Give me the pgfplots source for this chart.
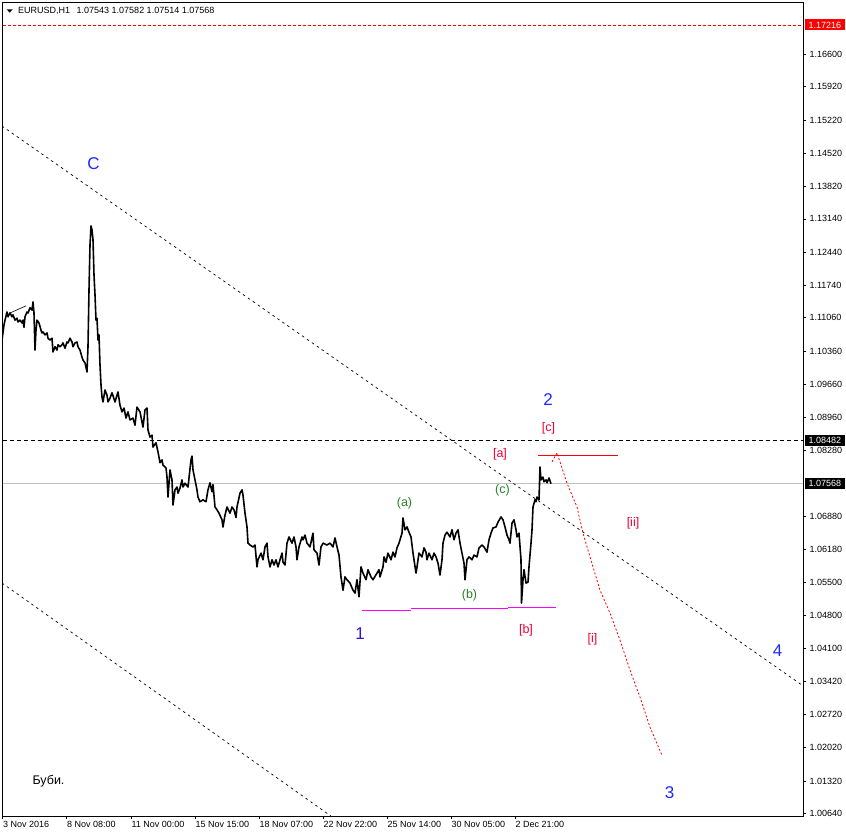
\documentclass[border=0pt]{standalone}
\usepackage{fontspec}
\setmainfont{Liberation Sans}
\usepackage{pgfplots}
\usepackage{pgfplotstable}
\pgfplotsset{compat=1.18}
\definecolor{wblue}{RGB}{30,40,255}
\definecolor{windigo}{RGB}{50,20,210}
\definecolor{wred}{RGB}{235,0,50}
\definecolor{wgreen}{RGB}{40,130,40}
\definecolor{lgray}{RGB}{192,192,192}
\definecolor{wmag}{RGB}{255,0,255}

\pgfplotstableread{
x p
2 1.1059
4 1.1091
5 1.1101
7 1.1118
8 1.1108
10 1.1116
12 1.1108
13 1.1112
15 1.1101
17 1.1105
18 1.1097
20 1.1101
22 1.1095
23 1.1101
24 1.1086
25 1.1108
27 1.1118
28 1.1116
30 1.1127
32 1.1122
33 1.1139
34 1.1116
35 1.1038
36 1.1080
37 1.1101
39 1.1095
41 1.1080
42 1.1074
43 1.1076
45 1.1070
47 1.1074
48 1.1063
50 1.1059
52 1.1063
53 1.1034
55 1.1045
57 1.1038
58 1.1049
60 1.1045
62 1.1049
63 1.1053
65 1.1042
67 1.1055
68 1.1053
70 1.1063
72 1.1055
73 1.1045
75 1.1053
77 1.1055
78 1.1045
80 1.1038
82 1.1023
83 1.1017
85 1.1011
87 1.0992
88 1.1045
89 1.1164
90 1.1259
91 1.1299
92 1.1291
93 1.1270
94 1.1196
95 1.1154
96 1.1101
97 1.1105
98 1.1059
99 1.1070
100 1.1007
101 1.0965
102 1.0939
103 1.0929
105 1.0954
107 1.0943
108 1.0929
110 1.0937
112 1.0948
113 1.0942
115 1.0929
117 1.0943
118 1.0950
120 1.0922
122 1.0908
124 1.0916
126 1.0895
128 1.0908
130 1.0891
133 1.0895
135 1.0880
137 1.0918
140 1.0908
143 1.0876
145 1.0912
147 1.0916
148 1.0870
150 1.0855
152 1.0859
153 1.0834
156 1.0843
158 1.0824
160 1.0801
162 1.0807
163 1.0796
166 1.0790
167 1.0771
168 1.0729
170 1.0786
172 1.0765
173 1.0712
175 1.0744
177 1.0750
178 1.0737
180 1.0748
182 1.0765
183 1.0750
185 1.0758
188 1.0750
191 1.0807
192 1.0815
193 1.0786
195 1.0765
197 1.0744
198 1.0729
200 1.0719
203 1.0723
206 1.0719
208 1.0744
210 1.0759
212 1.0740
213 1.0755
215 1.0708
217 1.0702
219 1.0695
222 1.0681
223 1.0666
225 1.0691
227 1.0708
230 1.0695
232 1.0708
234 1.0702
236 1.0686
237 1.0708
240 1.0737
242 1.0744
243 1.0733
245 1.0695
247 1.0666
248 1.0632
250 1.0628
253 1.0624
255 1.0628
257 1.0582
258 1.0597
261 1.0611
263 1.0597
265 1.0624
267 1.0632
268 1.0603
270 1.0582
272 1.0597
274 1.0586
276 1.0597
278 1.0582
280 1.0597
282 1.0611
283 1.0592
285 1.0586
287 1.0632
289 1.0645
292 1.0632
294 1.0645
296 1.0624
297 1.0597
299 1.0624
302 1.0645
303 1.0639
305 1.0649
307 1.0632
310 1.0624
313 1.0653
314 1.0618
317 1.0611
319 1.0586
321 1.0624
323 1.0632
327 1.0628
330 1.0632
333 1.0624
335 1.0643
337 1.0624
339 1.0607
341 1.0561
343 1.0533
345 1.0561
347 1.0555
350 1.0548
353 1.0533
355 1.0527
357 1.0555
359 1.0519
361 1.0582
363 1.0569
366 1.0555
368 1.0576
371 1.0561
373 1.0555
377 1.0569
379 1.0576
380 1.0561
383 1.0582
384 1.0603
386 1.0592
388 1.0611
391 1.0597
393 1.0613
395 1.0603
397 1.0622
399 1.0632
402 1.0653
403 1.0685
405 1.0660
407 1.0666
409 1.0655
411 1.0645
413 1.0611
414 1.0597
416 1.0569
417 1.0582
419 1.0611
422 1.0603
424 1.0622
426 1.0613
427 1.0597
429 1.0611
432 1.0597
434 1.0611
436 1.0603
438 1.0590
440 1.0565
442 1.0597
443 1.0632
445 1.0649
447 1.0655
450 1.0645
452 1.0660
454 1.0639
456 1.0653
458 1.0660
460 1.0632
462 1.0611
464 1.0590
465 1.0555
467 1.0597
469 1.0603
472 1.0597
474 1.0607
477 1.0603
479 1.0622
482 1.0628
484 1.0624
487 1.0613
489 1.0639
491 1.0653
493 1.0664
496 1.0666
498 1.0676
501 1.0687
503 1.0681
505 1.0666
507 1.0649
509 1.0639
510 1.0632
512 1.0674
514 1.0681
516 1.0660
517 1.0645
519 1.0653
521 1.0597
521.5 1.0506
523 1.0555
524 1.0576
526 1.0548
528 1.0550
529 1.0582
531 1.0632
532 1.0660
533 1.0708
535 1.0723
536 1.0719
537 1.0729
539 1.0723
540 1.0792
541 1.0765
543 1.0771
544 1.0761
546 1.0765
547 1.0759
549 1.0769
551 1.0757
}\price

\begin{document}
\begin{tikzpicture}[x=1pt,y=1pt]
\path[use as bounding box] (0pt,0pt) rectangle (846pt,837pt);
\begin{axis}[
  at={(2.7pt,21pt)}, anchor=south west,
  scale only axis, width=800.6pt, height=813.3pt,
  xmin=2.7, xmax=803.3, ymin=1.00582, ymax=1.17685,
  axis line style={black, line width=0.8pt},
  xtick pos=left, ytick pos=right, yticklabel pos=right, xticklabel pos=left,
  tick align=outside, major tick length=3pt,
  tick style={black, line width=0.6pt},
  xtick={2.7,66.7,131,195,259,323,387,451,515},
  xticklabels={3 Nov 2016, 8 Nov 08:00, 11 Nov 00:00, 15 Nov 15:00, 18 Nov 07:00, 22 Nov 22:00, 25 Nov 14:00, 30 Nov 05:00, 2 Dec 21:00},
  ytick={1.0064,1.0132,1.0202,1.0272,1.0342,1.0410,1.0480,1.0550,1.0618,1.0688,1.0828,1.0896,1.0966,1.1036,1.1106,1.1174,1.1244,1.1314,1.1382,1.1452,1.1522,1.1592,1.1660},
  yticklabels={1.00640,1.01320,1.02020,1.02720,1.03420,1.04100,1.04800,1.05500,1.06180,1.06880,1.08280,1.08960,1.09660,1.10360,1.11060,1.11740,1.12440,1.13140,1.13820,1.14520,1.15220,1.15920,1.16600},
  xticklabel style={anchor=north west, inner sep=0pt, xshift=0.3pt, yshift=-2pt, font=\fontsize{9}{10}\selectfont},
  yticklabel style={anchor=west, inner sep=0pt, xshift=3pt, font=\fontsize{9}{10}\selectfont},
  clip=true,
]
% horizontal levels
\addplot[red, dash pattern=on 3pt off 2pt, line width=0.8pt] coordinates {(2.7,1.17216) (803.3,1.17216)};
\addplot[black, dash pattern=on 4pt off 3pt, line width=0.8pt] coordinates {(2.7,1.08482) (803.3,1.08482)};
\addplot[lgray, line width=0.8pt] coordinates {(2.7,1.07568) (803.3,1.07568)};
% channel lines
\addplot[black, dash pattern=on 2.5pt off 3.5pt, line width=0.7pt] coordinates {(2,1.1509) (803,1.0332)};
\addplot[black, dash pattern=on 2.5pt off 3.5pt, line width=0.7pt] coordinates {(2,1.0548) (331,1.0058)};
\addplot[black, line width=0.6pt] coordinates {(10,1.1116) (26,1.1131)};
% magenta support
\addplot[wmag, line width=1pt] coordinates {(362,1.0491) (411,1.0491)};
\addplot[wmag, line width=1pt] coordinates {(411,1.04935) (508,1.04935)};
\addplot[wmag, line width=1pt] coordinates {(508,1.0496) (556,1.0496)};
% red resistance
\addplot[red, line width=0.9pt] coordinates {(538,1.0817) (618,1.0817)};
% projected path
\addplot[red, dash pattern=on 2pt off 2pt, line width=0.8pt] coordinates {(552,1.0803) (557,1.0822) (567,1.0758) (577,1.0708) (583,1.0653) (590,1.0603) (600,1.0533) (610,1.0485) (620,1.0428) (630,1.0365) (640,1.0308) (650,1.0245) (662,1.0186)};
% price
\addplot[black, line width=1.6pt, line join=round] table[x=x,y=p] {\price};
% labels
\node[text=wblue, font=\fontsize{17}{17}\selectfont] at (axis cs:93.5,1.1431) {C};
\node[text=wblue, font=\fontsize{17}{17}\selectfont] at (axis cs:548,1.0933) {2};
\node[text=windigo, font=\fontsize{17}{17}\selectfont] at (axis cs:360,1.0441) {1};
\node[text=wblue, font=\fontsize{17}{17}\selectfont] at (axis cs:777.5,1.0405) {4};
\node[text=wblue, font=\fontsize{17}{17}\selectfont] at (axis cs:669.5,1.0107) {3};
\node[text=wred, font=\fontsize{12.5}{13}\selectfont] at (axis cs:548.5,1.0874) {[c]};
\node[text=wred, font=\fontsize{12.5}{13}\selectfont] at (axis cs:500,1.0818) {[a]};
\node[text=wred, font=\fontsize{12.5}{13}\selectfont] at (axis cs:526,1.0449) {[b]};
\node[text=wred, font=\fontsize{12.5}{13}\selectfont] at (axis cs:633,1.0674) {[ii]};
\node[text=wred, font=\fontsize{12.5}{13}\selectfont] at (axis cs:592.5,1.0430) {[i]};
\node[text=wgreen, font=\fontsize{12.5}{13}\selectfont] at (axis cs:404.5,1.0716) {(a)};
\node[text=wgreen, font=\fontsize{12.5}{13}\selectfont] at (axis cs:469.5,1.0523) {(b)};
\node[text=wgreen, font=\fontsize{12.5}{13}\selectfont] at (axis cs:502.5,1.0743) {(c)};
\node[text=black, font=\fontsize{12.5}{13}\selectfont] at (axis cs:48.5,1.0132) {Буби.};
\coordinate (Lr) at (axis cs:803.3,1.17216);
\coordinate (Lb) at (axis cs:803.3,1.08482);
\coordinate (Lg) at (axis cs:803.3,1.07568);
\end{axis}
\node[fill=red, text=white, anchor=west, xshift=1.7pt, inner xsep=3.5pt, inner ysep=0pt, minimum height=11pt, font=\fontsize{9}{10}\selectfont] at (Lr) {1.17216};
\node[fill=black, text=white, anchor=west, xshift=1.7pt, inner xsep=3.5pt, inner ysep=0pt, minimum height=11pt, font=\fontsize{9}{10}\selectfont] at (Lb) {1.08482};
\node[fill=black, text=white, anchor=west, xshift=1.7pt, inner xsep=3.5pt, inner ysep=0pt, minimum height=11pt, font=\fontsize{9}{10}\selectfont] at (Lg) {1.07568};
\fill[black] (6.7pt,827.7pt) -- (12.7pt,827.7pt) -- (9.7pt,824.3pt) -- cycle;
\node[anchor=west, inner sep=0pt, font=\fontsize{9}{10}\selectfont] at (18pt,826.5pt) {EURUSD,H1\hspace{4pt} 1.07543 1.07582 1.07514 1.07568};
\end{tikzpicture}
\end{document}
